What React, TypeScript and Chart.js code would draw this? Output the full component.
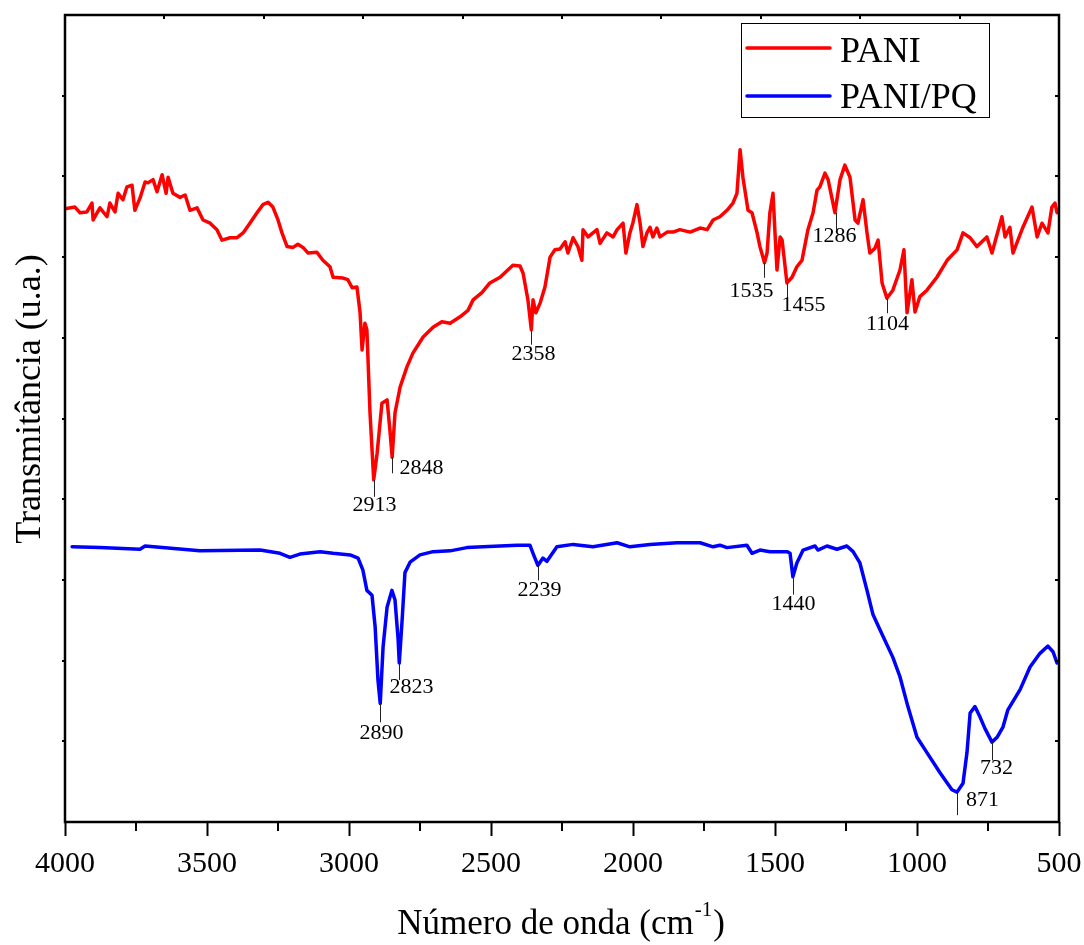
import React, { useEffect, useRef } from "react";
import { Chart, registerables } from "chart.js";

Chart.register(...registerables);

// ---------- DATA ----------
const paniWavenumber = [
  4000, 3965, 3947, 3923, 3905, 3901, 3877, 3852, 3842, 3824, 3813, 3796, 3782, 3764, 3754, 3736, 3718, 3708, 3690, 3676,
  3658, 3644, 3637, 3620, 3595, 3577, 3560, 3535, 3514, 3489, 3465, 3447, 3419, 3394, 3373, 3349, 3324, 3303, 3285, 3268,
  3250, 3236, 3218, 3197, 3180, 3162, 3144, 3113, 3092, 3067, 3056, 3021, 3004, 2989, 2972, 2961, 2954, 2944, 2937, 2926,
  2913, 2901, 2884, 2866, 2856, 2848, 2838, 2820, 2796, 2775, 2739, 2704, 2673, 2644, 2609, 2581, 2563, 2532, 2504, 2468,
  2423, 2398, 2387, 2370, 2358, 2352, 2342, 2327, 2310, 2292, 2275, 2257, 2239, 2229, 2211, 2194, 2180, 2176, 2158, 2127,
  2116, 2092, 2070, 2056, 2035, 2025, 2011, 2000, 1986, 1975, 1965, 1951, 1940, 1930, 1916, 1905, 1880, 1859, 1835, 1799,
  1764, 1739, 1718, 1694, 1669, 1648, 1634, 1623, 1613, 1595, 1581, 1563, 1553, 1537, 1528, 1518, 1507, 1500, 1493, 1482,
  1475, 1458, 1440, 1423, 1405, 1384, 1366, 1352, 1342, 1324, 1313, 1289, 1271, 1254, 1236, 1218, 1208, 1190, 1176, 1166,
  1148, 1137, 1123, 1106, 1085, 1060, 1046, 1035, 1018, 1007, 990, 965, 930, 894, 859, 838, 813, 789, 754, 736,
  701, 690, 673, 662, 627, 595, 577, 560, 539, 525, 514, 507,
];
const paniTransmittance = [
  76.0, 76.2, 75.5, 75.6, 76.7, 74.6, 76.1, 75.0, 76.7, 75.6, 77.9, 77.1, 78.7, 78.9, 75.8, 77.3, 79.3, 79.2, 79.6, 78.1,
  80.2, 77.9, 79.9, 77.9, 77.4, 77.7, 75.8, 76.1, 74.6, 74.2, 73.4, 72.1, 72.4, 72.4, 73.0, 74.2, 75.5, 76.5, 76.8, 76.2,
  74.6, 73.0, 71.3, 71.2, 71.6, 71.2, 70.5, 70.6, 69.6, 68.8, 67.5, 67.4, 67.2, 66.2, 66.3, 63.1, 58.5, 61.8, 61.0, 50.7,
  42.4, 45.7, 51.9, 52.3, 48.6, 45.2, 50.7, 53.9, 56.4, 58.1, 60.1, 61.3, 62.0, 61.8, 62.6, 63.4, 64.7, 65.6, 66.8, 67.5,
  69.0, 68.9, 68.0, 64.7, 61.0, 64.7, 63.1, 64.3, 66.3, 70.0, 70.9, 71.0, 71.9, 70.5, 72.4, 71.3, 69.6, 73.4, 72.5, 73.4,
  71.7, 73.0, 72.5, 73.4, 74.2, 70.5, 73.0, 74.3, 76.5, 74.2, 71.3, 73.0, 73.7, 72.5, 73.6, 72.5, 73.1, 73.1, 73.4, 73.1,
  73.6, 73.4, 74.6, 75.0, 75.8, 76.7, 77.9, 83.3, 79.9, 75.8, 75.5, 73.0, 71.3, 69.3, 70.5, 75.5, 77.9, 73.0, 68.4, 72.5,
  72.1, 66.8, 67.5, 68.8, 69.6, 73.4, 75.5, 78.3, 78.7, 80.4, 79.6, 75.5, 79.6, 81.4, 79.9, 74.6, 74.2, 77.1, 73.0, 70.5,
  71.1, 72.1, 66.8, 64.9, 65.9, 68.4, 70.9, 63.1, 67.2, 63.2, 65.1, 65.9, 67.5, 69.6, 70.9, 73.0, 72.4, 71.3, 72.5, 70.5,
  75.0, 72.5, 73.7, 70.5, 73.7, 76.2, 72.5, 74.2, 73.0, 76.2, 76.7, 75.5,
];

const paniPqWavenumber = [
  3975, 3877, 3736, 3718, 3525, 3313, 3243, 3208, 3173, 3102, 3056, 2996, 2968, 2951, 2937, 2919, 2908, 2898, 2890, 2880,
  2866, 2849, 2838, 2827, 2823, 2813, 2803, 2785, 2750, 2704, 2644, 2585, 2528, 2468, 2408, 2363, 2352, 2335, 2317, 2303,
  2268, 2211, 2141, 2056, 2011, 1940, 1845, 1764, 1718, 1694, 1669, 1599, 1581, 1553, 1518, 1458, 1447, 1437, 1423, 1401,
  1359, 1349, 1317, 1282, 1247, 1225, 1201, 1176, 1155, 1130, 1085, 1060, 1032, 1000, 965, 919, 877, 859, 838, 824,
  813, 796, 778, 761, 736, 718, 697, 680, 637, 602, 567, 539, 521, 507,
];
const paniPqTransmittance = [
  34.1, 34.0, 33.8, 34.2, 33.6, 33.7, 33.3, 32.8, 33.2, 33.5, 33.3, 33.1, 32.7, 31.2, 28.7, 28.1, 24.2, 17.6, 14.7, 21.7,
  26.6, 28.7, 27.5, 22.6, 19.7, 25.0, 30.9, 32.2, 33.1, 33.5, 33.6, 34.0, 34.1, 34.2, 34.3, 34.3, 33.3, 31.8, 32.7, 32.3,
  34.1, 34.4, 34.1, 34.6, 34.1, 34.4, 34.6, 34.6, 34.1, 34.3, 34.0, 34.3, 33.3, 33.7, 33.5, 33.5, 33.3, 30.4, 32.1, 33.7,
  34.2, 33.7, 34.2, 33.8, 34.2, 33.5, 32.1, 28.7, 25.7, 23.8, 20.4, 18.0, 14.3, 10.5, 8.6, 6.1, 4.0, 3.7, 4.8, 8.6,
  13.5, 14.3, 13.0, 11.6, 9.9, 10.5, 11.8, 13.9, 16.4, 19.2, 20.9, 21.8, 21.1, 19.7,
];

const seriesNames = ["PANI", "PANI/PQ"];
const xTickValues = [4000, 3500, 3000, 2500, 2000, 1500, 1000, 500];
const xMinorTicks = [3750, 3250, 2750, 2250, 1750, 1250, 750];

// peak annotations: label, wavenumber of marker, transmittance at marker
const peakLabels = ["2913", "2848", "2358", "1535", "1455", "1286", "1104", "2890", "2823", "2239", "1440", "871", "732"];
const peakWavenumbers = [2913, 2848, 2358, 1537, 1458, 1286, 1106, 2890, 2823, 2335, 1437, 859, 736];
const peakTransmittance = [42.4, 45.2, 61.0, 69.3, 66.8, 75.5, 64.9, 14.7, 19.7, 31.8, 30.4, 3.7, 9.9];
// layout of annotations (pixels): marker length, label dx, label dy (from marker top)
const peakLayout = [
  [17, 0, 25], [16, 29, 11], [15, 2, 24], [15, -13, 28], [17, 16, 22], [17, -2, 24], [15, 0, 26],
  [19, 1, 30], [17, 12, 24], [15, 1, 25], [18, 0, 28], [23, 25, 8], [18, 4, 26],
];

const SERIF = '"Liberation Serif", "Times New Roman", serif';

const decorPlugin = {
  id: "decor",
  afterDraw(chart: any) {
    const { ctx, chartArea } = chart;
    const { left, right, top, bottom } = chartArea;
    const xs = chart.scales.x;
    const ys = chart.scales.y;
    ctx.save();
    // frame
    ctx.strokeStyle = "#000";
    ctx.lineWidth = 2.5;
    ctx.strokeRect(left, top, right - left, bottom - top);
    // minor ticks bottom
    ctx.lineWidth = 2;
    ctx.beginPath();
    for (const m of xMinorTicks) {
      const px = Math.round(xs.getPixelForValue(m));
      ctx.moveTo(px, bottom);
      ctx.lineTo(px, bottom + 9);
    }
    // left/right ticks
    for (let v = 10; v < 100; v += 10) {
      const py = Math.round(ys.getPixelForValue(v));
      ctx.moveTo(left - 3, py);
      ctx.lineTo(left + 1, py);
      ctx.moveTo(right - 4, py);
      ctx.lineTo(right, py);
    }
    // top ticks (10 divisions)
    for (let k = 1; k < 10; k++) {
      const px = Math.round(left + ((right - left) * k) / 10);
      ctx.moveTo(px, top);
      ctx.lineTo(px, top + 4);
    }
    ctx.stroke();

    // peak annotations
    ctx.lineWidth = 1;
    ctx.strokeStyle = "#222";
    ctx.fillStyle = "#000";
    ctx.font = `22px ${SERIF}`;
    ctx.textAlign = "center";
    ctx.textBaseline = "middle";
    peakLabels.forEach((lab, i) => {
      const px = Math.round(xs.getPixelForValue(peakWavenumbers[i])) + 0.5;
      const py = ys.getPixelForValue(peakTransmittance[i]);
      const [len, dx, dy] = peakLayout[i];
      ctx.beginPath();
      ctx.moveTo(px, py);
      ctx.lineTo(px, py + len);
      ctx.stroke();
      ctx.fillText(lab, px + dx, py + dy);
    });

    // legend
    ctx.lineWidth = 1;
    ctx.strokeStyle = "#000";
    ctx.strokeRect(741.5, 23.5, 248, 94);
    const colors = ["#ff0000", "#0000ff"];
    const lineY = [48, 96];
    const baseY = [62, 108];
    ctx.font = `36px ${SERIF}`;
    ctx.textAlign = "left";
    ctx.textBaseline = "alphabetic";
    seriesNames.forEach((name, i) => {
      ctx.strokeStyle = colors[i];
      ctx.lineWidth = 3.5;
      ctx.lineCap = "round";
      ctx.beginPath();
      ctx.moveTo(747, lineY[i]);
      ctx.lineTo(830, lineY[i]);
      ctx.stroke();
      ctx.fillText(name, 840, baseY[i]);
    });

    // x title
    ctx.fillStyle = "#000";
    const main = "Número de onda (cm";
    const sup = "-1";
    const close = ")";
    ctx.font = `35px ${SERIF}`;
    const w1 = ctx.measureText(main).width;
    const w3 = ctx.measureText(close).width;
    ctx.font = `21px ${SERIF}`;
    const w2 = ctx.measureText(sup).width;
    const total = w1 + w2 + w3 + 2;
    const sx = 561 - total / 2;
    const by = 934;
    ctx.font = `35px ${SERIF}`;
    ctx.fillText(main, sx, by);
    ctx.font = `21px ${SERIF}`;
    ctx.fillText(sup, sx + w1 + 1, by - 18);
    ctx.font = `35px ${SERIF}`;
    ctx.fillText(close, sx + w1 + w2 + 2, by);

    // y title
    ctx.save();
    ctx.translate(31, 399);
    ctx.rotate(-Math.PI / 2);
    ctx.textAlign = "center";
    ctx.textBaseline = "middle";
    ctx.font = `36px ${SERIF}`;
    ctx.fillText("Transmitância (u.a.)", 0, 0);
    ctx.restore();

    ctx.restore();
  },
};

export default function App() {
  const canvasRef = useRef<HTMLCanvasElement | null>(null);
  useEffect(() => {
    document.body.style.margin = "0";
    const canvas = canvasRef.current;
    if (!canvas) return;
    const chart = new Chart(canvas, {
      type: "line",
      data: {
        datasets: [
          {
            label: seriesNames[0],
            data: paniWavenumber.map((w, i) => ({ x: w, y: paniTransmittance[i] })),
            borderColor: "#ff0000",
            borderWidth: 3.5,
            borderJoinStyle: "round",
            borderCapStyle: "round",
            pointRadius: 0,
            tension: 0,
            fill: false,
          },
          {
            label: seriesNames[1],
            data: paniPqWavenumber.map((w, i) => ({ x: w, y: paniPqTransmittance[i] })),
            borderColor: "#0000ff",
            borderWidth: 3.5,
            borderJoinStyle: "round",
            borderCapStyle: "round",
            pointRadius: 0,
            tension: 0,
            fill: false,
          },
        ],
      },
      options: {
        animation: false,
        responsive: false,
        devicePixelRatio: 1,
        layout: { padding: { left: 0, top: 15, right: 25, bottom: 0 } },
        plugins: { legend: { display: false }, tooltip: { enabled: false } },
        scales: {
          x: {
            type: "linear",
            min: 500,
            max: 4000,
            reverse: true,
            afterFit: (s: any) => {
              s.height = 123;
              s.paddingLeft = 0;
              s.paddingRight = 0;
            },
            afterBuildTicks: (s: any) => {
              s.ticks = xTickValues.map((v) => ({ value: v }));
            },
            ticks: {
              autoSkip: false,
              maxRotation: 0,
              color: "#000",
              padding: 10,
              font: { family: SERIF, size: 30 },
              callback: (v: any) => String(v),
            },
            grid: {
              display: true,
              drawOnChartArea: false,
              drawTicks: true,
              tickLength: 14,
              tickColor: "#000",
              tickWidth: 2,
            },
            border: { display: false },
          },
          y: {
            type: "linear",
            min: 0,
            max: 100,
            afterFit: (s: any) => {
              s.width = 65;
            },
            ticks: { display: false },
            grid: { display: false },
            border: { display: false },
          },
        },
      },
      plugins: [decorPlugin],
    });
    return () => chart.destroy();
  }, []);
  return (
    <div style={{ position: "absolute", left: 0, top: 0, width: 1084, height: 945, background: "#fff" }}>
      <canvas ref={canvasRef} width={1084} height={945} />
    </div>
  );
}
